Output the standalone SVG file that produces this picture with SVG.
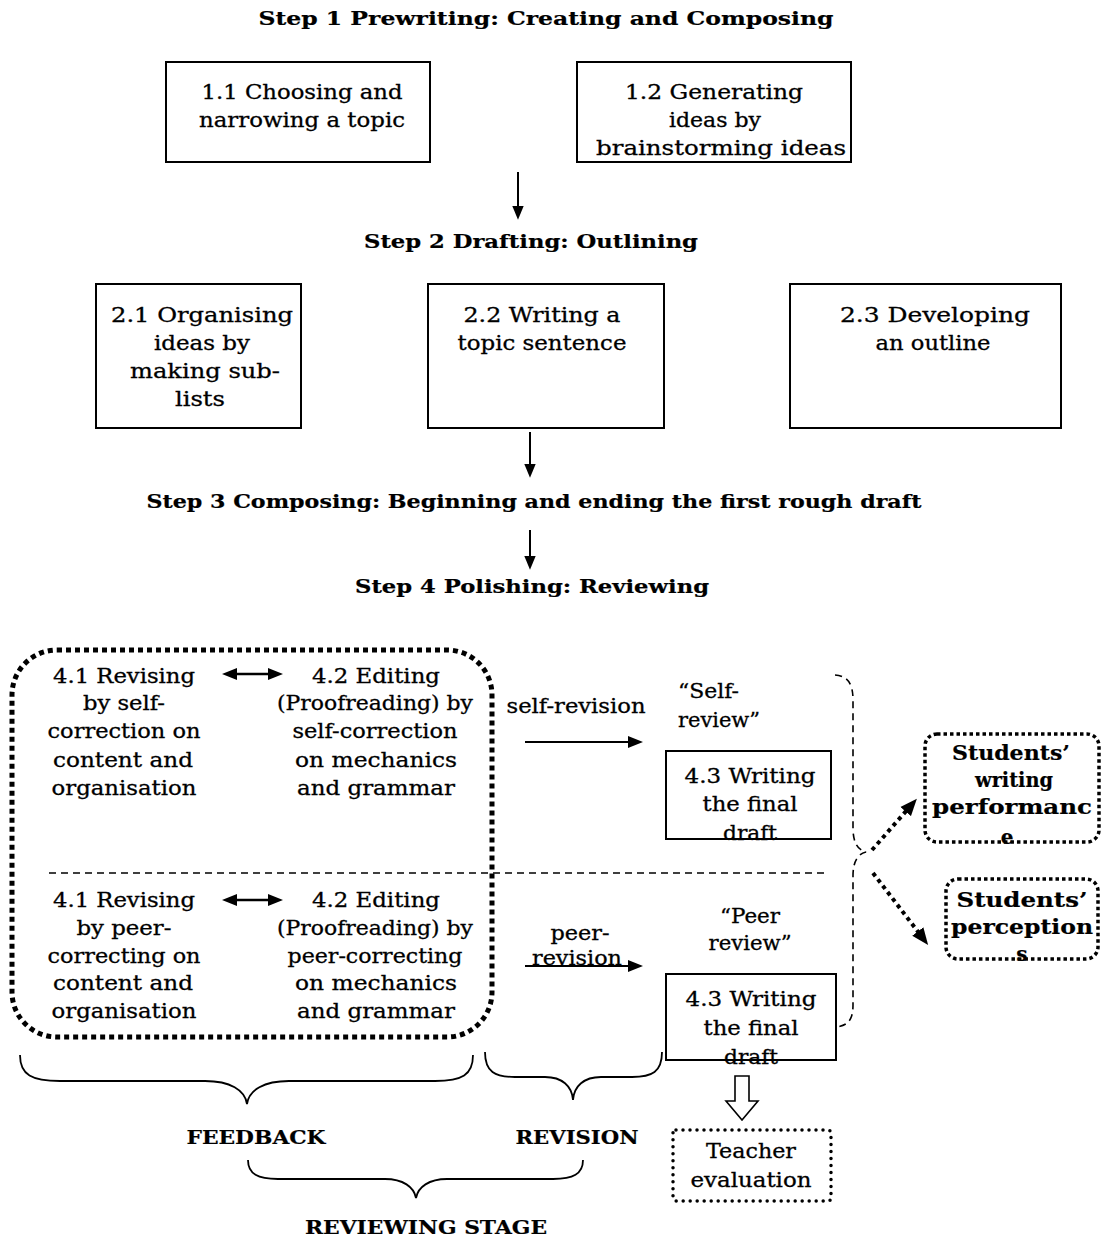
<svg xmlns="http://www.w3.org/2000/svg" width="1111" height="1246" viewBox="0 0 1111 1246">
<style>
text{font-family:"DejaVu Serif","Liberation Serif",serif;fill:#000;stroke:#000;stroke-width:0.3}
.t{font-size:20px;text-anchor:middle}
.l{font-size:20px;text-anchor:start}
.h{font-size:19px;font-weight:bold;text-anchor:middle;stroke-width:0.2}
.sb{font-size:20px;font-weight:bold;text-anchor:middle;stroke-width:0.2}
.box{fill:#fff;stroke:#000;stroke-width:2}
.ln{fill:none;stroke:#000;stroke-width:2}
.br{fill:none;stroke:#000;stroke-width:1.8}
.dash{fill:none;stroke:#000;stroke-width:1.6;stroke-dasharray:7 5}
.bigdot{fill:none;stroke:#000;stroke-width:5;stroke-dasharray:5 4}
.sqdot{fill:none;stroke:#000;stroke-width:3.5;stroke-dasharray:3.5 3}
.rdot{fill:#fff;stroke:#000;stroke-width:3.5;stroke-dasharray:0 7;stroke-linecap:round}
.darr{fill:none;stroke:#000;stroke-width:4;stroke-dasharray:4 4}
</style>
<defs>
<marker id="ah" markerUnits="userSpaceOnUse" markerWidth="14" markerHeight="12" refX="2" refY="5" orient="auto-start-reverse" viewBox="0 0 12 10">
<path d="M0,0 L12,5 L0,10 z" fill="#000"/>
</marker>
<marker id="ah2" markerUnits="userSpaceOnUse" markerWidth="15" markerHeight="13" refX="2" refY="6" orient="auto-start-reverse" viewBox="0 0 15 12">
<path d="M0,0 L15,6 L0,12 z" fill="#000"/>
</marker>
<marker id="ahb" markerUnits="userSpaceOnUse" markerWidth="17" markerHeight="15" refX="2" refY="7" orient="auto" viewBox="0 0 17 14">
<path d="M0,0 L17,7 L0,14 z" fill="#000"/>
</marker>
<clipPath id="c1"><rect x="920" y="730" width="185" height="115"/></clipPath>
<clipPath id="c2"><rect x="940" y="875" width="165" height="86"/></clipPath>
</defs>

<g id="step1">
<text class="h" x="546" y="25" textLength="575" lengthAdjust="spacingAndGlyphs">Step 1  Prewriting: Creating and Composing</text>
</g>
<g id="n11">
<rect class="box" x="166" y="62" width="264" height="100"/>
<text class="t" x="302" y="99" textLength="201" lengthAdjust="spacingAndGlyphs">1.1 Choosing and</text>
<text class="t" x="302" y="127" textLength="206" lengthAdjust="spacingAndGlyphs">narrowing a topic</text>
</g>
<g id="n12">
<rect class="box" x="577" y="62" width="274" height="100"/>
<text class="t" x="714" y="99" textLength="178" lengthAdjust="spacingAndGlyphs">1.2  Generating</text>
<text class="t" x="715" y="127" textLength="92" lengthAdjust="spacingAndGlyphs">ideas by</text>
<text class="t" x="721" y="155" textLength="250" lengthAdjust="spacingAndGlyphs">brainstorming ideas</text>
</g>
<g id="step2">
<text class="h" x="531" y="248" textLength="334" lengthAdjust="spacingAndGlyphs">Step 2  Drafting: Outlining</text>
</g>
<g id="n21">
<rect class="box" x="96" y="284" width="205" height="144"/>
<text class="t" x="202" y="322" textLength="182" lengthAdjust="spacingAndGlyphs">2.1  Organising</text>
<text class="t" x="202" y="350" textLength="96" lengthAdjust="spacingAndGlyphs">ideas by</text>
<text class="t" x="205" y="378" textLength="150" lengthAdjust="spacingAndGlyphs">making sub-</text>
<text class="t" x="200" y="406" textLength="50" lengthAdjust="spacingAndGlyphs">lists</text>
</g>
<g id="n22">
<rect class="box" x="428" y="284" width="236" height="144"/>
<text class="t" x="542" y="322" textLength="157" lengthAdjust="spacingAndGlyphs">2.2 Writing a</text>
<text class="t" x="542" y="350" textLength="169" lengthAdjust="spacingAndGlyphs">topic sentence</text>
</g>
<g id="n23">
<rect class="box" x="790" y="284" width="271" height="144"/>
<text class="t" x="935" y="322" textLength="190" lengthAdjust="spacingAndGlyphs">2.3  Developing</text>
<text class="t" x="933" y="350" textLength="115" lengthAdjust="spacingAndGlyphs">an outline</text>
</g>
<g id="step3">
<text class="h" x="534" y="508" textLength="775" lengthAdjust="spacingAndGlyphs">Step 3  Composing: Beginning and ending the first rough draft</text>
</g>
<g id="step4">
<text class="h" x="532" y="593" textLength="354" lengthAdjust="spacingAndGlyphs">Step 4  Polishing: Reviewing</text>
</g>

<g id="feedbackGroup">
<rect class="bigdot" x="12" y="650" width="480" height="387" rx="45" ry="45"/>
</g>
<g id="n41self">
<text class="t" x="124" y="683" textLength="142" lengthAdjust="spacingAndGlyphs">4.1 Revising</text>
<text class="t" x="124" y="710" textLength="82" lengthAdjust="spacingAndGlyphs">by self-</text>
<text class="t" x="124" y="738" textLength="153" lengthAdjust="spacingAndGlyphs">correction on</text>
<text class="t" x="123" y="767" textLength="140" lengthAdjust="spacingAndGlyphs">content and</text>
<text class="t" x="124" y="795" textLength="145" lengthAdjust="spacingAndGlyphs">organisation</text>
</g>
<g id="n42self">
<text class="t" x="376" y="683" textLength="128" lengthAdjust="spacingAndGlyphs">4.2 Editing</text>
<text class="t" x="375" y="710" textLength="196" lengthAdjust="spacingAndGlyphs">(Proofreading) by</text>
<text class="t" x="375" y="738" textLength="165" lengthAdjust="spacingAndGlyphs">self-correction</text>
<text class="t" x="376" y="767" textLength="162" lengthAdjust="spacingAndGlyphs">on mechanics</text>
<text class="t" x="376" y="795" textLength="158" lengthAdjust="spacingAndGlyphs">and grammar</text>
</g>
<g id="n41peer">
<text class="t" x="124" y="907" textLength="142" lengthAdjust="spacingAndGlyphs">4.1 Revising</text>
<text class="t" x="124" y="935" textLength="95" lengthAdjust="spacingAndGlyphs">by peer-</text>
<text class="t" x="124" y="963" textLength="153" lengthAdjust="spacingAndGlyphs">correcting on</text>
<text class="t" x="123" y="990" textLength="140" lengthAdjust="spacingAndGlyphs">content and</text>
<text class="t" x="124" y="1018" textLength="145" lengthAdjust="spacingAndGlyphs">organisation</text>
</g>
<g id="n42peer">
<text class="t" x="376" y="907" textLength="128" lengthAdjust="spacingAndGlyphs">4.2 Editing</text>
<text class="t" x="375" y="935" textLength="196" lengthAdjust="spacingAndGlyphs">(Proofreading) by</text>
<text class="t" x="375" y="963" textLength="175" lengthAdjust="spacingAndGlyphs">peer-correcting</text>
<text class="t" x="376" y="990" textLength="162" lengthAdjust="spacingAndGlyphs">on mechanics</text>
<text class="t" x="376" y="1018" textLength="158" lengthAdjust="spacingAndGlyphs">and grammar</text>
</g>

<g id="selfLabels">
<text class="t" x="576" y="713" textLength="139" lengthAdjust="spacingAndGlyphs">self-revision</text>
<text class="l" x="678" y="698" textLength="61" lengthAdjust="spacingAndGlyphs">“Self-</text>
<text class="l" x="678" y="727" textLength="82" lengthAdjust="spacingAndGlyphs">review”</text>
</g>
<g id="n43self">
<rect class="box" x="666" y="751" width="165" height="88"/>
<text class="t" x="750" y="783" textLength="131" lengthAdjust="spacingAndGlyphs">4.3 Writing</text>
<text class="t" x="750" y="811" textLength="95" lengthAdjust="spacingAndGlyphs">the final</text>
<text class="t" x="750" y="840" textLength="54" lengthAdjust="spacingAndGlyphs">draft</text>
</g>
<g id="peerLabels">
<text class="t" x="750" y="923" textLength="60" lengthAdjust="spacingAndGlyphs">“Peer</text>
<text class="t" x="750" y="950" textLength="83" lengthAdjust="spacingAndGlyphs">review”</text>
<text class="t" x="580" y="940" textLength="59" lengthAdjust="spacingAndGlyphs">peer-</text>
<text class="t" x="577" y="965" textLength="90" lengthAdjust="spacingAndGlyphs">revision</text>
</g>
<g id="n43peer">
<rect class="box" x="666" y="974" width="170" height="86"/>
<text class="t" x="751" y="1006" textLength="131" lengthAdjust="spacingAndGlyphs">4.3 Writing</text>
<text class="t" x="751" y="1035" textLength="95" lengthAdjust="spacingAndGlyphs">the final</text>
<text class="t" x="751" y="1064" textLength="54" lengthAdjust="spacingAndGlyphs">draft</text>
</g>

<g id="performance">
<g clip-path="url(#c1)">
<text class="sb" x="1011" y="760" textLength="118" lengthAdjust="spacingAndGlyphs">Students’</text>
<text class="sb" x="1014" y="787" textLength="78" lengthAdjust="spacingAndGlyphs">writing</text>
<text class="sb" x="1012" y="814" textLength="160" lengthAdjust="spacingAndGlyphs">performanc</text>
<text class="sb" x="1007" y="844">e</text>
</g>
<rect class="sqdot" x="925" y="734" width="174" height="108" rx="12" ry="12"/>
</g>
<g id="perceptions">
<g clip-path="url(#c2)">
<text class="sb" x="1022" y="907" textLength="131" lengthAdjust="spacingAndGlyphs">Students’</text>
<text class="sb" x="1022" y="934" textLength="142" lengthAdjust="spacingAndGlyphs">perception</text>
<text class="sb" x="1022" y="961">s</text>
</g>
<rect class="sqdot" x="946" y="879" width="152" height="80" rx="12" ry="12"/>
</g>
<g id="teacher">
<rect class="rdot" x="673" y="1130" width="158" height="71" rx="3" ry="3"/>
<text class="t" x="751" y="1158" textLength="90" lengthAdjust="spacingAndGlyphs">Teacher</text>
<text class="t" x="751" y="1187" textLength="121" lengthAdjust="spacingAndGlyphs">evaluation</text>
</g>

<g id="labels">
<text class="sb" x="256" y="1144" style="font-size:19px" textLength="139" lengthAdjust="spacingAndGlyphs">FEEDBACK</text>
<text class="sb" x="577" y="1144" style="font-size:19px" textLength="123" lengthAdjust="spacingAndGlyphs">REVISION</text>
<text class="sb" x="426" y="1234" style="font-size:19px" textLength="242" lengthAdjust="spacingAndGlyphs">REVIEWING STAGE</text>
</g>

<g id="connectors">
<line class="ln" x1="518" y1="172" x2="518" y2="208" marker-end="url(#ah)"/>
<line class="ln" x1="530" y1="432" x2="530" y2="466" marker-end="url(#ah)"/>
<line class="ln" x1="530" y1="530" x2="530" y2="558" marker-end="url(#ah)"/>
<line class="ln" x1="235" y1="674" x2="270" y2="674" style="stroke-width:2.5" marker-start="url(#ah2)" marker-end="url(#ah2)"/>
<line class="ln" x1="235" y1="900" x2="270" y2="900" style="stroke-width:2.5" marker-start="url(#ah2)" marker-end="url(#ah2)"/>
<line class="dash" x1="49" y1="873" x2="828" y2="873"/>
<line class="ln" x1="525" y1="742" x2="630" y2="742" marker-end="url(#ah2)"/>
<line class="ln" x1="525" y1="966" x2="630" y2="966" marker-end="url(#ah2)"/>
<path class="dash" d="M835,675 C848,676 853,684 853,700 L853,828 C853,843 858,850 866,852 C858,854 853,861 853,876 L853,1005 C853,1020 848,1026 835,1027"/>
<line class="darr" x1="872" y1="850" x2="907" y2="810" marker-end="url(#ahb)"/>
<line class="darr" x1="873" y1="873" x2="919" y2="933" marker-end="url(#ahb)"/>
<polygon points="735,1076 749,1076 749,1101 758,1101 742,1120 726,1101 735,1101" fill="#fff" stroke="#000" stroke-width="1.6"/>
<path class="br" d="M20,1055 C20,1075 32,1081 60,1081 L205,1081 C230,1081 245,1090 247,1104 C249,1090 264,1081 289,1081 L435,1081 C462,1081 473,1075 473,1055"/>
<path class="br" d="M485,1052 C485,1072 495,1077 515,1077 L545,1077 C562,1077 572,1086 573,1100 C574,1086 584,1077 601,1077 L632,1077 C652,1077 662,1072 662,1052"/>
<path class="br" d="M248,1160 C248,1174 258,1179 278,1179 L385,1179 C403,1179 414,1187 416,1198 C418,1187 429,1179 447,1179 L553,1179 C573,1179 583,1174 583,1160"/>
</g>
</svg>
